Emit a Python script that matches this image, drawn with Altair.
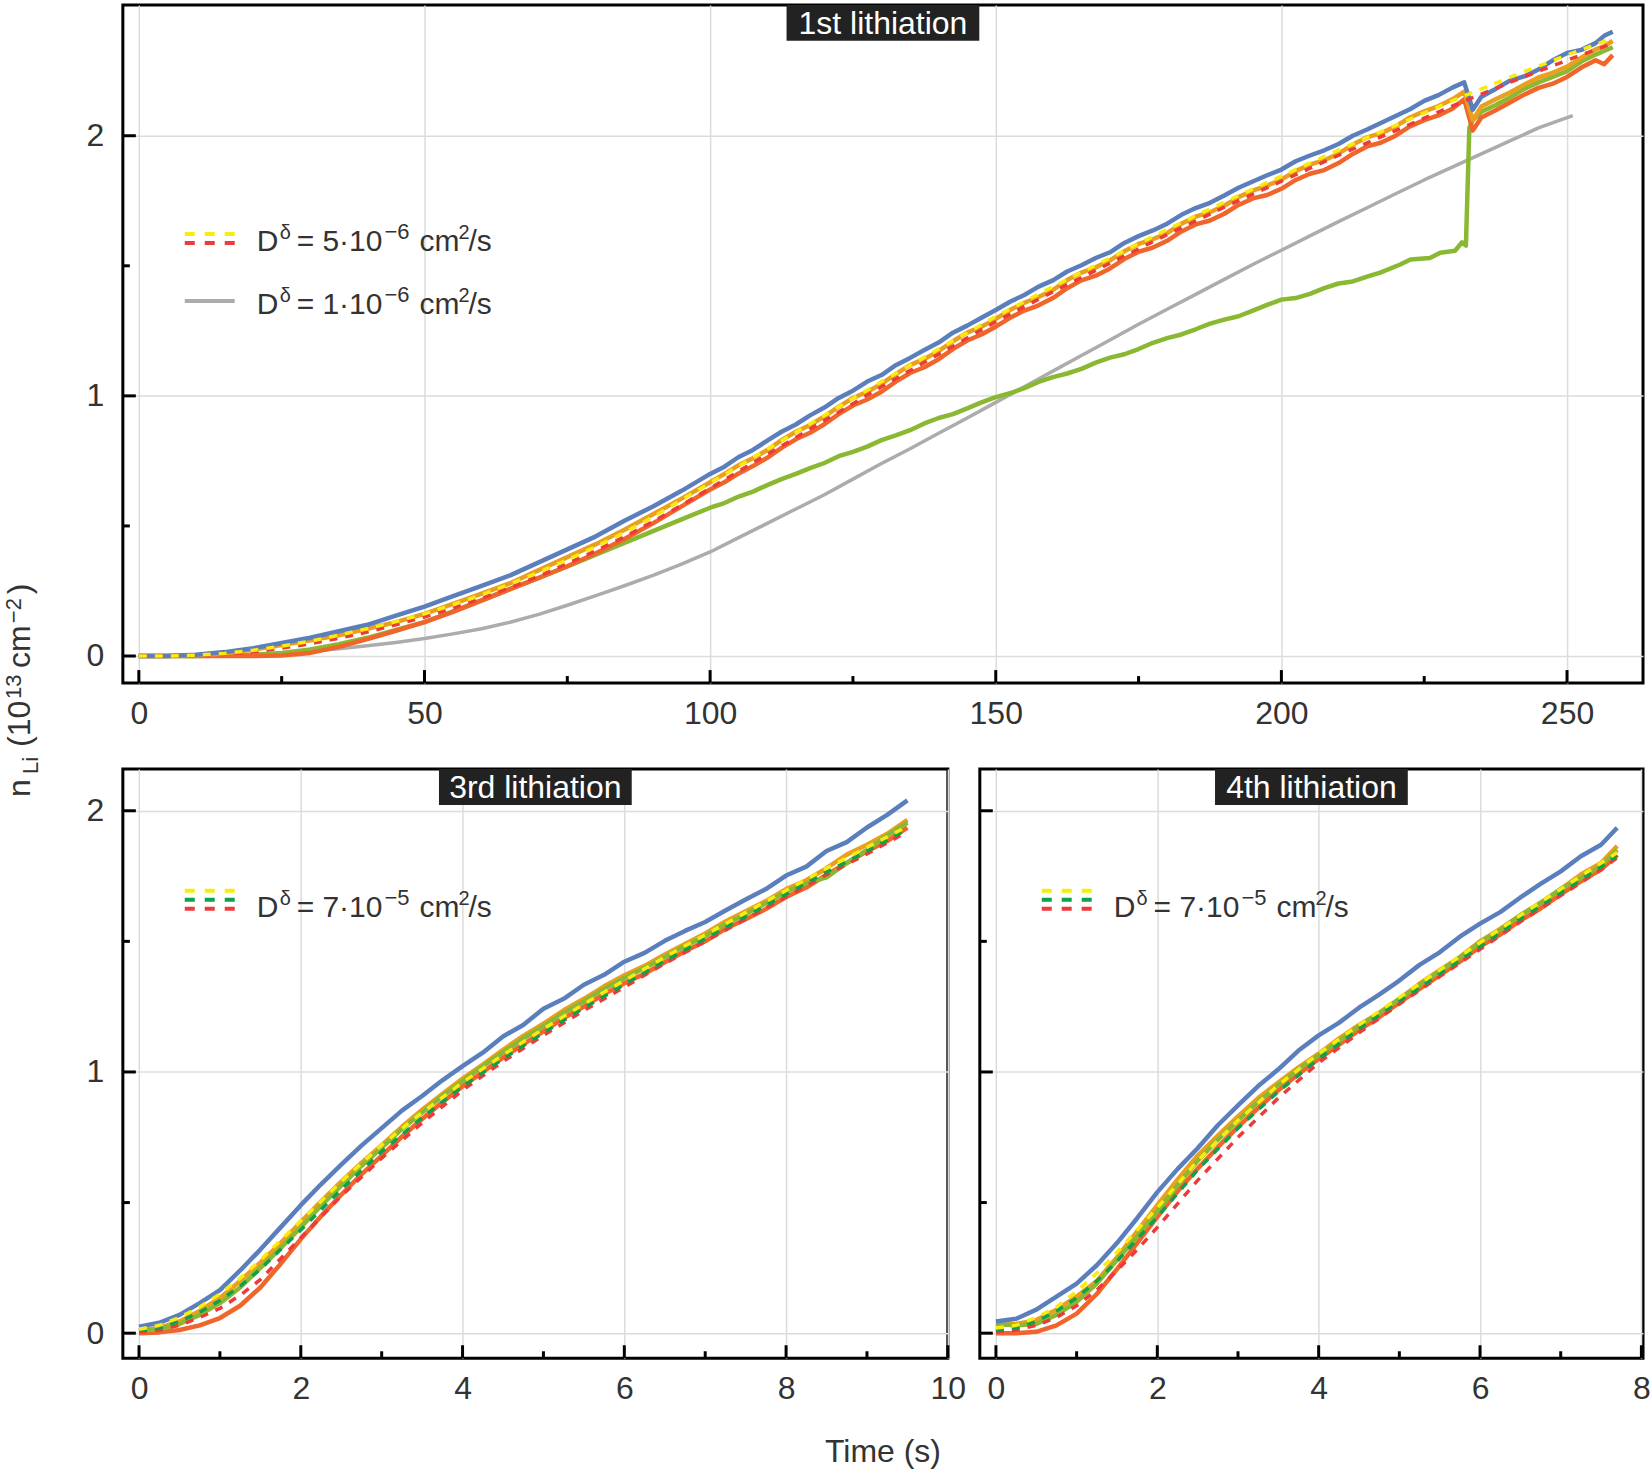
import altair as alt
import pandas as pd

FONT = "Liberation Sans"
INK = "#333333"

C_BLUE = "#5b7fbd"
C_AMBER = "#e8a01e"
C_ORANGE = "#f0652a"
C_GREEN = "#8ab832"
C_GRAY = "#acacac"
C_DYELLOW = "#f8ec0c"
C_DRED = "#ee3a3a"
C_DGREEN = "#10a04c"

# ---------------- 1st lithiation (time in s, n_Li in 1e13 cm^-2) ----------------
T1 = [0, 5, 10, 15, 20, 25, 30, 35, 40, 45, 50, 55, 60, 65, 70, 75, 80, 85, 90, 95,
      100, 102.5, 105, 107.5, 110, 112.5, 115, 117.5, 120, 122.5,
      125, 127.5, 130, 132.5, 135, 137.5, 140, 142.5, 145, 147.5,
      150, 152.5, 155, 157.5, 160, 162.5, 165, 167.5, 170, 172.5,
      175, 177.5, 180, 182.5, 185, 187.5, 190, 192.5, 195, 197.5,
      200, 202.5, 205, 207.5, 210, 212.5, 215, 217.5, 220, 222.5,
      225, 227.5, 230,
      232, 233.5, 235, 237.5, 240, 242.5, 245, 247.5, 250, 252.5, 255, 256.5, 258]
BLUE_1 = [0, 0, 0.005, 0.015, 0.03, 0.05, 0.07, 0.095, 0.12, 0.155, 0.19, 0.23, 0.27, 0.31,
          0.36, 0.41, 0.46, 0.52, 0.575, 0.635,
          0.700, 0.728, 0.765, 0.792, 0.828, 0.862, 0.890, 0.925, 0.955, 0.992,
          1.020, 1.055, 1.080, 1.118, 1.146, 1.176, 1.205, 1.243, 1.270, 1.300,
          1.330, 1.362, 1.388, 1.420, 1.444, 1.478, 1.502, 1.530, 1.552, 1.588,
          1.614, 1.636, 1.662, 1.696, 1.722, 1.742, 1.770, 1.800, 1.824, 1.848,
          1.870, 1.902, 1.924, 1.944, 1.968, 2.000, 2.024, 2.050, 2.076, 2.102,
          2.134, 2.156, 2.186,
          2.205, 2.100, 2.150, 2.180, 2.212, 2.228, 2.255, 2.290, 2.318, 2.330, 2.356, 2.384,
          2.400]
AMBER_1 = [0, 0, 0.003, 0.01, 0.025, 0.042, 0.06, 0.08, 0.105, 0.13, 0.162, 0.2, 0.24, 0.28,
           0.33, 0.38, 0.43, 0.485, 0.545, 0.605,
           0.668, 0.700, 0.734, 0.760, 0.792, 0.830, 0.862, 0.888, 0.921, 0.958,
           0.992, 1.016, 1.046, 1.084, 1.118, 1.142, 1.172, 1.210, 1.243, 1.266,
           1.296, 1.330, 1.358, 1.380, 1.407, 1.445, 1.474, 1.494, 1.521, 1.556,
           1.584, 1.602, 1.626, 1.662, 1.689, 1.706, 1.731, 1.764, 1.789, 1.808,
           1.832, 1.864, 1.889, 1.906, 1.931, 1.966, 1.994, 2.010, 2.036, 2.070,
           2.094, 2.114, 2.141,
           2.170, 2.060, 2.112, 2.140, 2.166, 2.196, 2.224, 2.242, 2.266, 2.300, 2.332, 2.344,
           2.365]
ORANGE_1 = [0, 0, 0, 0, 0, 0.002, 0.012, 0.035, 0.065, 0.097, 0.13, 0.17, 0.213, 0.257,
            0.30, 0.345, 0.395, 0.45, 0.51, 0.575,
            0.640, 0.668, 0.702, 0.730, 0.762, 0.800, 0.833, 0.858, 0.891, 0.930,
            0.963, 0.986, 1.016, 1.055, 1.088, 1.110, 1.141, 1.180, 1.213, 1.236,
            1.266, 1.300, 1.328, 1.348, 1.376, 1.414, 1.444, 1.462, 1.490, 1.526,
            1.554, 1.570, 1.596, 1.632, 1.659, 1.674, 1.700, 1.734, 1.759, 1.772,
            1.796, 1.830, 1.854, 1.868, 1.895, 1.930, 1.959, 1.974, 2.000, 2.036,
            2.060, 2.078, 2.105,
            2.140, 2.020, 2.070, 2.098, 2.128, 2.158, 2.184, 2.200, 2.226, 2.262, 2.290, 2.275,
            2.310]
GREEN_1_T = [0, 5, 10, 15, 20, 25, 30, 35, 40, 45, 50, 55, 60, 65, 70, 75, 80, 85, 90, 95,
             100, 102.5, 105, 107.5, 110, 112.5, 115, 117.5, 120, 122.5,
             125, 127.5, 130, 132.5, 135, 137.5, 140, 142.5, 145, 147.5,
             150, 152.5, 155, 157.5, 160, 162.5, 165, 167.5, 170, 172.5,
             175, 177.5, 180, 182.5, 185, 187.5, 190, 192.5, 195, 197.5,
             200, 202.5, 205, 207.5, 210, 212.5, 215,
             217.3, 220.8, 222.6, 226, 227.8, 230.4, 231.6, 232.3, 232.9, 233.5,
             235, 237.5, 240, 242.5, 245, 247.5, 250, 252.5, 255, 258]
GREEN_1 = [0, 0, 0, 0.002, 0.005, 0.012, 0.025, 0.045, 0.07, 0.1, 0.13, 0.172, 0.215, 0.258,
           0.30, 0.344, 0.39, 0.435, 0.48, 0.525,
           0.570, 0.588, 0.613, 0.632, 0.657, 0.680, 0.700, 0.722, 0.742, 0.768,
           0.785, 0.805, 0.830, 0.848, 0.868, 0.894, 0.915, 0.930, 0.952, 0.975,
           0.995, 1.010, 1.030, 1.054, 1.072, 1.086, 1.104, 1.128, 1.147, 1.160,
           1.180, 1.204, 1.222, 1.236, 1.256, 1.278, 1.293, 1.306, 1.328, 1.350,
           1.370, 1.376, 1.392, 1.414, 1.432, 1.440, 1.458,
           1.474, 1.505, 1.524, 1.530, 1.550, 1.558, 1.590, 1.578, 2.030, 2.060,
           2.092, 2.118, 2.147, 2.180, 2.205, 2.226, 2.248, 2.285, 2.312, 2.340]
TM1 = [0, 5, 10, 15, 20, 25, 30, 35, 40, 45, 50, 55, 60, 65, 70, 75, 80, 85, 90, 95, 100,
       110, 120, 130, 140, 150, 160, 170, 180, 190, 200, 210, 220, 230, 240, 250, 258]
MODEL_Y_1 = [0, 0, 0.003, 0.01, 0.022, 0.038, 0.057, 0.08, 0.105, 0.132, 0.162, 0.197, 0.235,
             0.277, 0.322, 0.37, 0.42, 0.475, 0.535, 0.6, 0.665,
             0.795, 0.925, 1.055, 1.18, 1.305, 1.42, 1.53, 1.64, 1.745, 1.845, 1.945, 2.04,
             2.135, 2.225, 2.31, 2.375]
MODEL_R_1 = [0, 0, 0.002, 0.007, 0.016, 0.03, 0.047, 0.068, 0.092, 0.12, 0.15, 0.184, 0.222,
             0.263, 0.307, 0.355, 0.405, 0.458, 0.517, 0.58, 0.645,
             0.775, 0.905, 1.035, 1.16, 1.285, 1.40, 1.51, 1.62, 1.725, 1.825, 1.925, 2.02,
             2.115, 2.205, 2.29, 2.355]
TG1 = [0, 5, 10, 15, 20, 25, 30, 35, 40, 45, 50, 55, 60, 65, 70, 75, 80, 85, 90, 95, 100,
       105, 110, 115, 120, 125, 130, 135, 140, 145, 150, 155, 160, 165, 170, 175, 180, 185,
       190, 195, 200, 205, 210, 215, 220, 225, 230, 235, 240, 245, 251]
MODEL_G_1 = [0, 0, 0.001, 0.003, 0.007, 0.012, 0.019, 0.028, 0.039, 0.052, 0.067, 0.085,
             0.105, 0.13, 0.16, 0.195, 0.232, 0.27, 0.31, 0.353, 0.40, 0.455, 0.51, 0.565,
             0.62, 0.68, 0.74, 0.797, 0.856, 0.915, 0.975, 1.035, 1.095, 1.155, 1.215, 1.275,
             1.333, 1.39, 1.448, 1.505, 1.56, 1.615, 1.67, 1.723, 1.777, 1.83, 1.88, 1.93,
             1.98, 2.03, 2.077]

# ---------------- 3rd lithiation ----------------
T3 = [0, 0.25, 0.5, 0.75, 1, 1.25, 1.5, 1.75, 2, 2.25, 2.5, 2.75, 3, 3.25, 3.5, 3.75,
      4, 4.25, 4.5, 4.75, 5, 5.25, 5.5, 5.75, 6, 6.25, 6.5, 6.75, 7, 7.25, 7.5, 7.75,
      8, 8.25, 8.5, 8.75, 9, 9.25, 9.5]
BLUE_3 = [0.025, 0.04, 0.07, 0.115, 0.165, 0.24, 0.32, 0.405, 0.49, 0.57, 0.645, 0.718,
          0.785, 0.852, 0.908, 0.968, 1.022, 1.074, 1.136, 1.180, 1.242, 1.280, 1.334, 1.372,
          1.422, 1.456, 1.502, 1.540, 1.574, 1.618, 1.660, 1.700, 1.752, 1.786, 1.846, 1.880,
          1.936, 1.984, 2.040]
AMBER_3 = [0.01, 0.02, 0.045, 0.085, 0.135, 0.2, 0.27, 0.345, 0.425, 0.505, 0.58, 0.652,
           0.72, 0.79, 0.855, 0.916, 0.975, 1.028, 1.085, 1.138, 1.185, 1.236, 1.28, 1.328,
           1.37, 1.406, 1.45, 1.49, 1.53, 1.576, 1.615, 1.654, 1.70, 1.734, 1.78, 1.832,
           1.87, 1.912, 1.965]
GREEN_3 = [0.008, 0.015, 0.035, 0.07, 0.115, 0.175, 0.25, 0.325, 0.405, 0.488, 0.565, 0.64,
           0.71, 0.782, 0.845, 0.908, 0.965, 1.022, 1.075, 1.128, 1.175, 1.226, 1.27, 1.318,
           1.36, 1.398, 1.44, 1.482, 1.52, 1.566, 1.605, 1.646, 1.69, 1.722, 1.745, 1.80,
           1.85, 1.905, 1.955]
ORANGE_3 = [0, 0.003, 0.012, 0.03, 0.058, 0.105, 0.175, 0.265, 0.36, 0.448, 0.53, 0.608,
            0.68, 0.752, 0.82, 0.884, 0.945, 1.0, 1.055, 1.106, 1.155, 1.206, 1.25, 1.298,
            1.34, 1.376, 1.42, 1.462, 1.50, 1.548, 1.585, 1.624, 1.67, 1.706, 1.755, 1.80,
            1.845, 1.884, 1.935]
T3M = [0, 0.25, 0.5, 0.75, 1, 1.25, 1.5, 1.75, 2, 2.5, 3, 3.5, 4, 4.5, 5, 5.5, 6, 6.5, 7,
       7.5, 8, 8.5, 9, 9.5]
MODEL_Y_3 = [0.015, 0.03, 0.06, 0.1, 0.15, 0.21, 0.28, 0.355, 0.43, 0.58, 0.72, 0.845, 0.96,
             1.065, 1.165, 1.26, 1.35, 1.44, 1.525, 1.61, 1.695, 1.78, 1.86, 1.94]
MODEL_GR_3 = [0.01, 0.02, 0.045, 0.08, 0.125, 0.18, 0.245, 0.32, 0.395, 0.55, 0.695, 0.825,
              0.945, 1.05, 1.15, 1.245, 1.335, 1.425, 1.51, 1.595, 1.68, 1.765, 1.845, 1.93]
MODEL_R_3 = [0.005, 0.012, 0.03, 0.06, 0.095, 0.145, 0.205, 0.285, 0.365, 0.525, 0.67, 0.805,
             0.93, 1.04, 1.14, 1.235, 1.325, 1.415, 1.50, 1.585, 1.67, 1.755, 1.835, 1.92]

# ---------------- 4th lithiation ----------------
T4 = [0, 0.25, 0.5, 0.75, 1, 1.25, 1.5, 1.75, 2, 2.25, 2.5, 2.75, 3, 3.25, 3.5, 3.75,
      4, 4.25, 4.5, 4.75, 5, 5.25, 5.5, 5.75, 6, 6.25, 6.5, 6.75, 7, 7.25, 7.5, 7.7]
BLUE_4 = [0.045, 0.055, 0.09, 0.14, 0.19, 0.26, 0.345, 0.44, 0.54, 0.628, 0.708, 0.796,
          0.872, 0.946, 1.01, 1.082, 1.14, 1.188, 1.246, 1.296, 1.35, 1.41, 1.458, 1.518,
          1.568, 1.612, 1.668, 1.72, 1.768, 1.826, 1.87, 1.935]
AMBER_4 = [0.03, 0.035, 0.05, 0.09, 0.14, 0.2, 0.29, 0.39, 0.49, 0.588, 0.68, 0.756, 0.83,
           0.9, 0.96, 1.018, 1.07, 1.128, 1.18, 1.226, 1.28, 1.338, 1.39, 1.44, 1.50, 1.548,
           1.60, 1.648, 1.70, 1.756, 1.80, 1.865]
GREEN_4 = [0.035, 0.03, 0.035, 0.07, 0.12, 0.19, 0.28, 0.37, 0.465, 0.566, 0.66, 0.74,
           0.815, 0.886, 0.95, 1.01, 1.065, 1.118, 1.175, 1.224, 1.28, 1.332, 1.385, 1.438,
           1.495, 1.544, 1.60, 1.646, 1.70, 1.742, 1.79, 1.85]
ORANGE_4 = [0, 0, 0.005, 0.03, 0.075, 0.15, 0.245, 0.345, 0.445, 0.542, 0.63, 0.712, 0.79,
            0.862, 0.93, 0.992, 1.05, 1.104, 1.16, 1.21, 1.265, 1.318, 1.37, 1.422, 1.48,
            1.526, 1.58, 1.626, 1.68, 1.73, 1.775, 1.83]
T4M = [0, 0.25, 0.5, 0.75, 1, 1.25, 1.5, 1.75, 2, 2.5, 3, 3.5, 4, 4.5, 5, 5.5, 6, 6.5, 7,
       7.5, 7.7]
MODEL_Y_4 = [0.02, 0.03, 0.06, 0.1, 0.16, 0.23, 0.31, 0.395, 0.48, 0.66, 0.815, 0.95, 1.07,
             1.18, 1.285, 1.39, 1.495, 1.60, 1.70, 1.80, 1.84]
MODEL_GR_4 = [0.01, 0.02, 0.045, 0.085, 0.135, 0.2, 0.275, 0.36, 0.445, 0.625, 0.785, 0.925,
              1.05, 1.165, 1.27, 1.375, 1.48, 1.585, 1.685, 1.785, 1.83]
MODEL_R_4 = [0.005, 0.012, 0.03, 0.06, 0.105, 0.165, 0.24, 0.32, 0.405, 0.585, 0.75, 0.9,
             1.035, 1.15, 1.26, 1.365, 1.47, 1.575, 1.675, 1.775, 1.82]

# axis ticks
X_MAJOR_1 = [0, 50, 100, 150, 200, 250]
X_MINOR_1 = [25, 75, 125, 175, 225]
X_MAJOR_3 = [0, 2, 4, 6, 8, 10]
X_MINOR_3 = [1, 3, 5, 7, 9]
X_MAJOR_4 = [0, 2, 4, 6, 8]
X_MINOR_4 = [1, 3, 5, 7]
Y_MAJOR = [0, 1, 2]
Y_MINOR = [0.5, 1.5]

ONE = pd.DataFrame({"k": [0]})


def frame(ts, vs):
    return pd.DataFrame({"t": ts, "v": vs})


def text_layer(text, x, y, size, color=INK, align="left", baseline="alphabetic", angle=None):
    kw = dict(text=text, font=FONT, fontSize=size, color=color, align=align, baseline=baseline)
    if angle is not None:
        kw["angle"] = angle
    return alt.Chart(ONE).mark_text(**kw).encode(x=alt.value(x), y=alt.value(y))


def make_panel(width, height, xdom, ydom, xmaj, xmin, curves, dashed, title, legend,
               show_ylabels=True, extra=()):
    xs = alt.Scale(domain=xdom, nice=False, zero=False)
    ys = alt.Scale(domain=ydom, nice=False, zero=False)
    xax = alt.Axis(values=xmaj, grid=True, ticks=False, domain=False, title=None,
                   labelFlush=False, labelOverlap=False, format="d")
    yax = alt.Axis(values=Y_MAJOR, grid=True, ticks=False, domain=False, title=None,
                   labels=show_ylabels, labelOverlap=False, format="d")
    X = alt.X("t:Q", scale=xs, axis=xax)
    Y = alt.Y("v:Q", scale=ys, axis=yax)

    layers = []
    for ts, vs, color, w in curves:
        layers.append(alt.Chart(frame(ts, vs)).mark_line(
            color=color, strokeWidth=w, strokeJoin="round").encode(x=X, y=Y))
    for ts, vs, color in dashed:
        layers.append(alt.Chart(frame(ts, vs)).mark_line(
            color=color, strokeWidth=3.5, strokeDash=[8, 8]).encode(x=X, y=Y))

    # inward ticks
    for vals, ln in ((xmaj, 13), (xmin, 7)):
        layers.append(alt.Chart(pd.DataFrame({"t": vals})).mark_rule(
            color="black", strokeWidth=3).encode(x=X, y=alt.value(height),
                                                 y2=alt.value(height - ln)))
    for vals, ln in ((Y_MAJOR, 13), (Y_MINOR, 7)):
        layers.append(alt.Chart(pd.DataFrame({"v": vals})).mark_rule(
            color="black", strokeWidth=3).encode(y=Y, x=alt.value(0), x2=alt.value(ln)))

    # title tab
    cx = width / 2
    layers.append(alt.Chart(ONE).mark_rect(color="#222222").encode(
        x=alt.value(cx - 96.5), x2=alt.value(cx + 96.5), y=alt.value(0), y2=alt.value(36)))
    layers.append(text_layer(title, cx, 19, 32, color="white", align="center",
                             baseline="middle"))

    # legend
    for kind, colors, yrow, mant, expo, base in legend:
        if kind == "dash":
            for i, c in enumerate(colors):
                layers.append(alt.Chart(ONE).mark_rule(color=c, strokeWidth=4,
                                                       strokeDash=[10, 10]).encode(
                    x=alt.value(62), x2=alt.value(112), y=alt.value(yrow + 9 * i)))
        else:
            layers.append(alt.Chart(ONE).mark_rule(color=colors[0], strokeWidth=4).encode(
                x=alt.value(62), x2=alt.value(112), y=alt.value(yrow)))
        x0 = 134
        for txt, dx, dy, fs in (("D", 0, 0, 30), ("δ", 23, -12, 20),
                                (f"= {mant}·10", 40, 0, 30), (f"−{expo}", 128, -12, 22),
                                ("cm", 163, 0, 30), ("2", 202, -12, 20), ("/s", 212, 0, 30)):
            layers.append(text_layer(txt, x0 + dx, base + dy, fs))

    layers.extend(extra)
    return alt.layer(*layers).properties(width=width, height=height)


# axis titles
y_title = [
    text_layer("n", -93, 793, 32, angle=270),
    text_layer("Li", -85, 770, 22, angle=270),
    text_layer("(10", -93, 743, 32, angle=270),
    text_layer("13", -102, 695, 22, angle=270),
    text_layer("cm", -93, 664, 32, angle=270),
    text_layer("−2", -102, 619, 22, angle=270),
    text_layer(")", -93, 590, 32, angle=270),
    # anchors the page's top-left corner
    alt.Chart(ONE).mark_rect(color="white").encode(
        x=alt.value(-121), x2=alt.value(-120), y=alt.value(-2), y2=alt.value(-1)),
]
x_title = [text_layer("Time (s)", 761, 694, 32, align="center")]

top = make_panel(
    1522, 679, [-2.8, 263.3], [-0.104, 2.503], X_MAJOR_1, X_MINOR_1,
    curves=[(TG1, MODEL_G_1, C_GRAY, 3.5), (GREEN_1_T, GREEN_1, C_GREEN, 4.5),
            (T1, ORANGE_1, C_ORANGE, 4.5), (T1, AMBER_1, C_AMBER, 4.5),
            (T1, BLUE_1, C_BLUE, 4.5)],
    dashed=[(TM1, MODEL_R_1, C_DRED), (TM1, MODEL_Y_1, C_DYELLOW)],
    title="1st lithiation",
    legend=[("dash", [C_DYELLOW, C_DRED], 229.5, "5", "6", 246),
            ("solid", [C_GRAY], 296.5, "1", "6", 309)],
    extra=y_title,
)

bl = make_panel(
    826, 590, [-0.2, 10.0], [-0.096, 2.16], X_MAJOR_3, X_MINOR_3,
    curves=[(T3, ORANGE_3, C_ORANGE, 4.5), (T3, AMBER_3, C_AMBER, 4.5),
            (T3, GREEN_3, C_GREEN, 4.5), (T3, BLUE_3, C_BLUE, 4.5)],
    dashed=[(T3M, MODEL_R_3, C_DRED), (T3M, MODEL_GR_3, C_DGREEN),
            (T3M, MODEL_Y_3, C_DYELLOW)],
    title="3rd lithiation",
    legend=[("dash", [C_DYELLOW, C_DGREEN, C_DRED], 122, "7", "5", 148)],
    extra=x_title,
)

br = make_panel(
    664, 590, [-0.2, 8.02], [-0.096, 2.16], X_MAJOR_4, X_MINOR_4,
    curves=[(T4, ORANGE_4, C_ORANGE, 4.5), (T4, AMBER_4, C_AMBER, 4.5),
            (T4, GREEN_4, C_GREEN, 4.5), (T4, BLUE_4, C_BLUE, 4.5)],
    dashed=[(T4M, MODEL_R_4, C_DRED), (T4M, MODEL_GR_4, C_DGREEN),
            (T4M, MODEL_Y_4, C_DYELLOW)],
    title="4th lithiation",
    legend=[("dash", [C_DYELLOW, C_DGREEN, C_DRED], 122, "7", "5", 148)],
    show_ylabels=False,
)

bottom = alt.hconcat(bl, br, spacing=32, bounds="flush")
chart = alt.vconcat(top, bottom, spacing=86, bounds="flush").properties(
    padding=0, autosize=alt.AutoSizeParams(type="pad"), background="white"
).configure_view(
    stroke="black", strokeWidth=3
).configure_axis(
    labelFont=FONT, labelFontSize=32, labelColor=INK,
    gridColor="#dcdcdc", gridWidth=1.5,
).configure_axisX(labelPadding=15).configure_axisY(labelPadding=19)

chart.save("out.html", embed_options={"renderer": "svg", "actions": False})
